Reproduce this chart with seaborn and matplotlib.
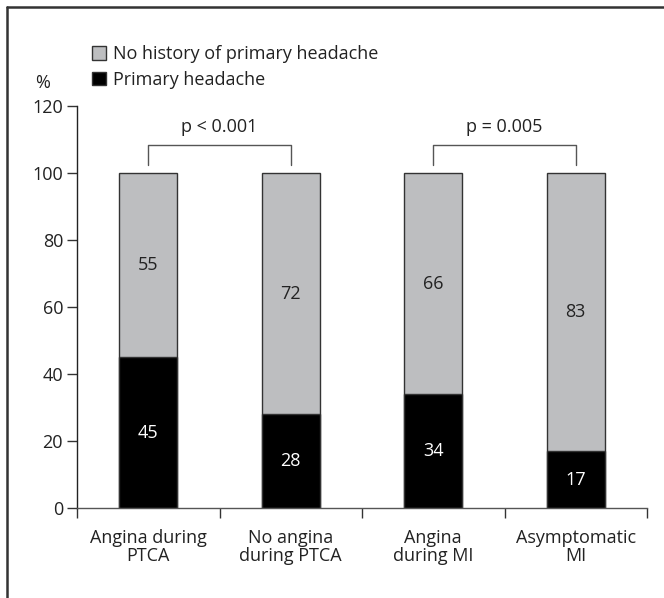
import matplotlib
matplotlib.use("Agg")
import matplotlib.pyplot as plt
import matplotlib.lines as mlines
import matplotlib.patches as mpatches
import seaborn as sns
import pandas as pd

categories = ["Angina during\nPTCA", "No angina\nduring PTCA", "Angina\nduring MI", "Asymptomatic\nMI"]
primary = [45, 28, 34, 17]
no_history = [55, 72, 66, 83]
yticks = [0, 20, 40, 60, 80, 100, 120]
pvals = ["p < 0.001", "p = 0.005"]

sns.set_theme(style="white")
plt.rcParams['font.family'] = ['Open Sans', 'DejaVu Sans']
TXT = "#222222"
GRAY = "#bdbec0"
FS = 13

df = pd.DataFrame({"cat": categories, "primary": primary, "nohist": no_history})
df["total"] = df["primary"] + df["nohist"]

fig = plt.figure(figsize=(6.64, 5.98), dpi=100)
ax = fig.add_axes([77/664, 1-508/598, (647-77)/664, (508-106)/598])

sns.barplot(data=df, x="cat", y="total", color=GRAY, edgecolor="#333333",
            linewidth=1.0, width=0.41, saturation=1, ax=ax)
sns.barplot(data=df, x="cat", y="primary", color="black", edgecolor="#333333",
            linewidth=1.0, width=0.41, saturation=1, ax=ax)

for i in range(len(categories)):
    p = primary[i]
    n = no_history[i]
    ax.text(i, p/2, f"{p}", ha="center", va="center", color="white", fontsize=FS)
    ax.text(i, p + n/2, f"{n}", ha="center", va="center", color=TXT, fontsize=FS)

# brackets
for k, (a, b) in enumerate([(0, 1), (2, 3)]):
    ax.plot([a, a, b, b], [102.4, 108.4, 108.4, 102.4], color="#555555", lw=1.0,
            clip_on=False)
    ax.text((a+b)/2, 113.7, pvals[k], ha="center", va="center", color=TXT, fontsize=FS)

ax.set_xlim(-0.5, 3.5)
ax.set_ylim(0, 120)
ax.set_yticks(yticks)
ax.set_yticklabels([str(v) for v in yticks], color=TXT, fontsize=FS)
ax.set_xticks([-0.5, 0.5, 1.5, 2.5, 3.5])
ax.set_xticklabels([])
ax.set_xticks(range(len(categories)), minor=True)
ax.set_xticklabels(categories, minor=True, color=TXT, fontsize=FS, linespacing=1.0)
ax.tick_params(axis="x", which="minor", length=0, pad=15)
ax.tick_params(axis="x", which="major", length=7, width=1, color="#333333", direction="out", bottom=True)
ax.tick_params(axis="y", length=7, width=1, color="#333333", direction="out", left=True, pad=3)
ax.set_xlabel("")
ax.set_ylabel("")
for s in ["top", "right"]:
    ax.spines[s].set_visible(False)
ax.spines["left"].set_color("#222222")
ax.spines["bottom"].set_color("#555555")
ax.spines["left"].set_linewidth(1.0)
ax.spines["bottom"].set_linewidth(1.0)

fig.text(43/664, 1-83/598, "%", ha="center", va="center", color=TXT, fontsize=FS)

handles = [mpatches.Patch(facecolor=GRAY, edgecolor="#333333", linewidth=1.0, label="No history of primary headache"),
           mpatches.Patch(facecolor="black", edgecolor="#333333", linewidth=1.0, label="Primary headache")]
fig.legend(handles=handles, loc="upper left", bbox_to_anchor=(92/664, 1-45/598),
           frameon=False, fontsize=FS, handlelength=0.78, handleheight=0.78,
           handletextpad=0.4, labelspacing=0.42, borderaxespad=0, borderpad=0,
           labelcolor=TXT)

# figure border (left and top)
fig.add_artist(mlines.Line2D([7/664, 7/664], [0, 1-7/598], color="#333333", lw=1.8))
fig.add_artist(mlines.Line2D([7/664, 1], [1-7/598, 1-7/598], color="#333333", lw=1.8))

fig.savefig("out.png", dpi=100, facecolor="white")
